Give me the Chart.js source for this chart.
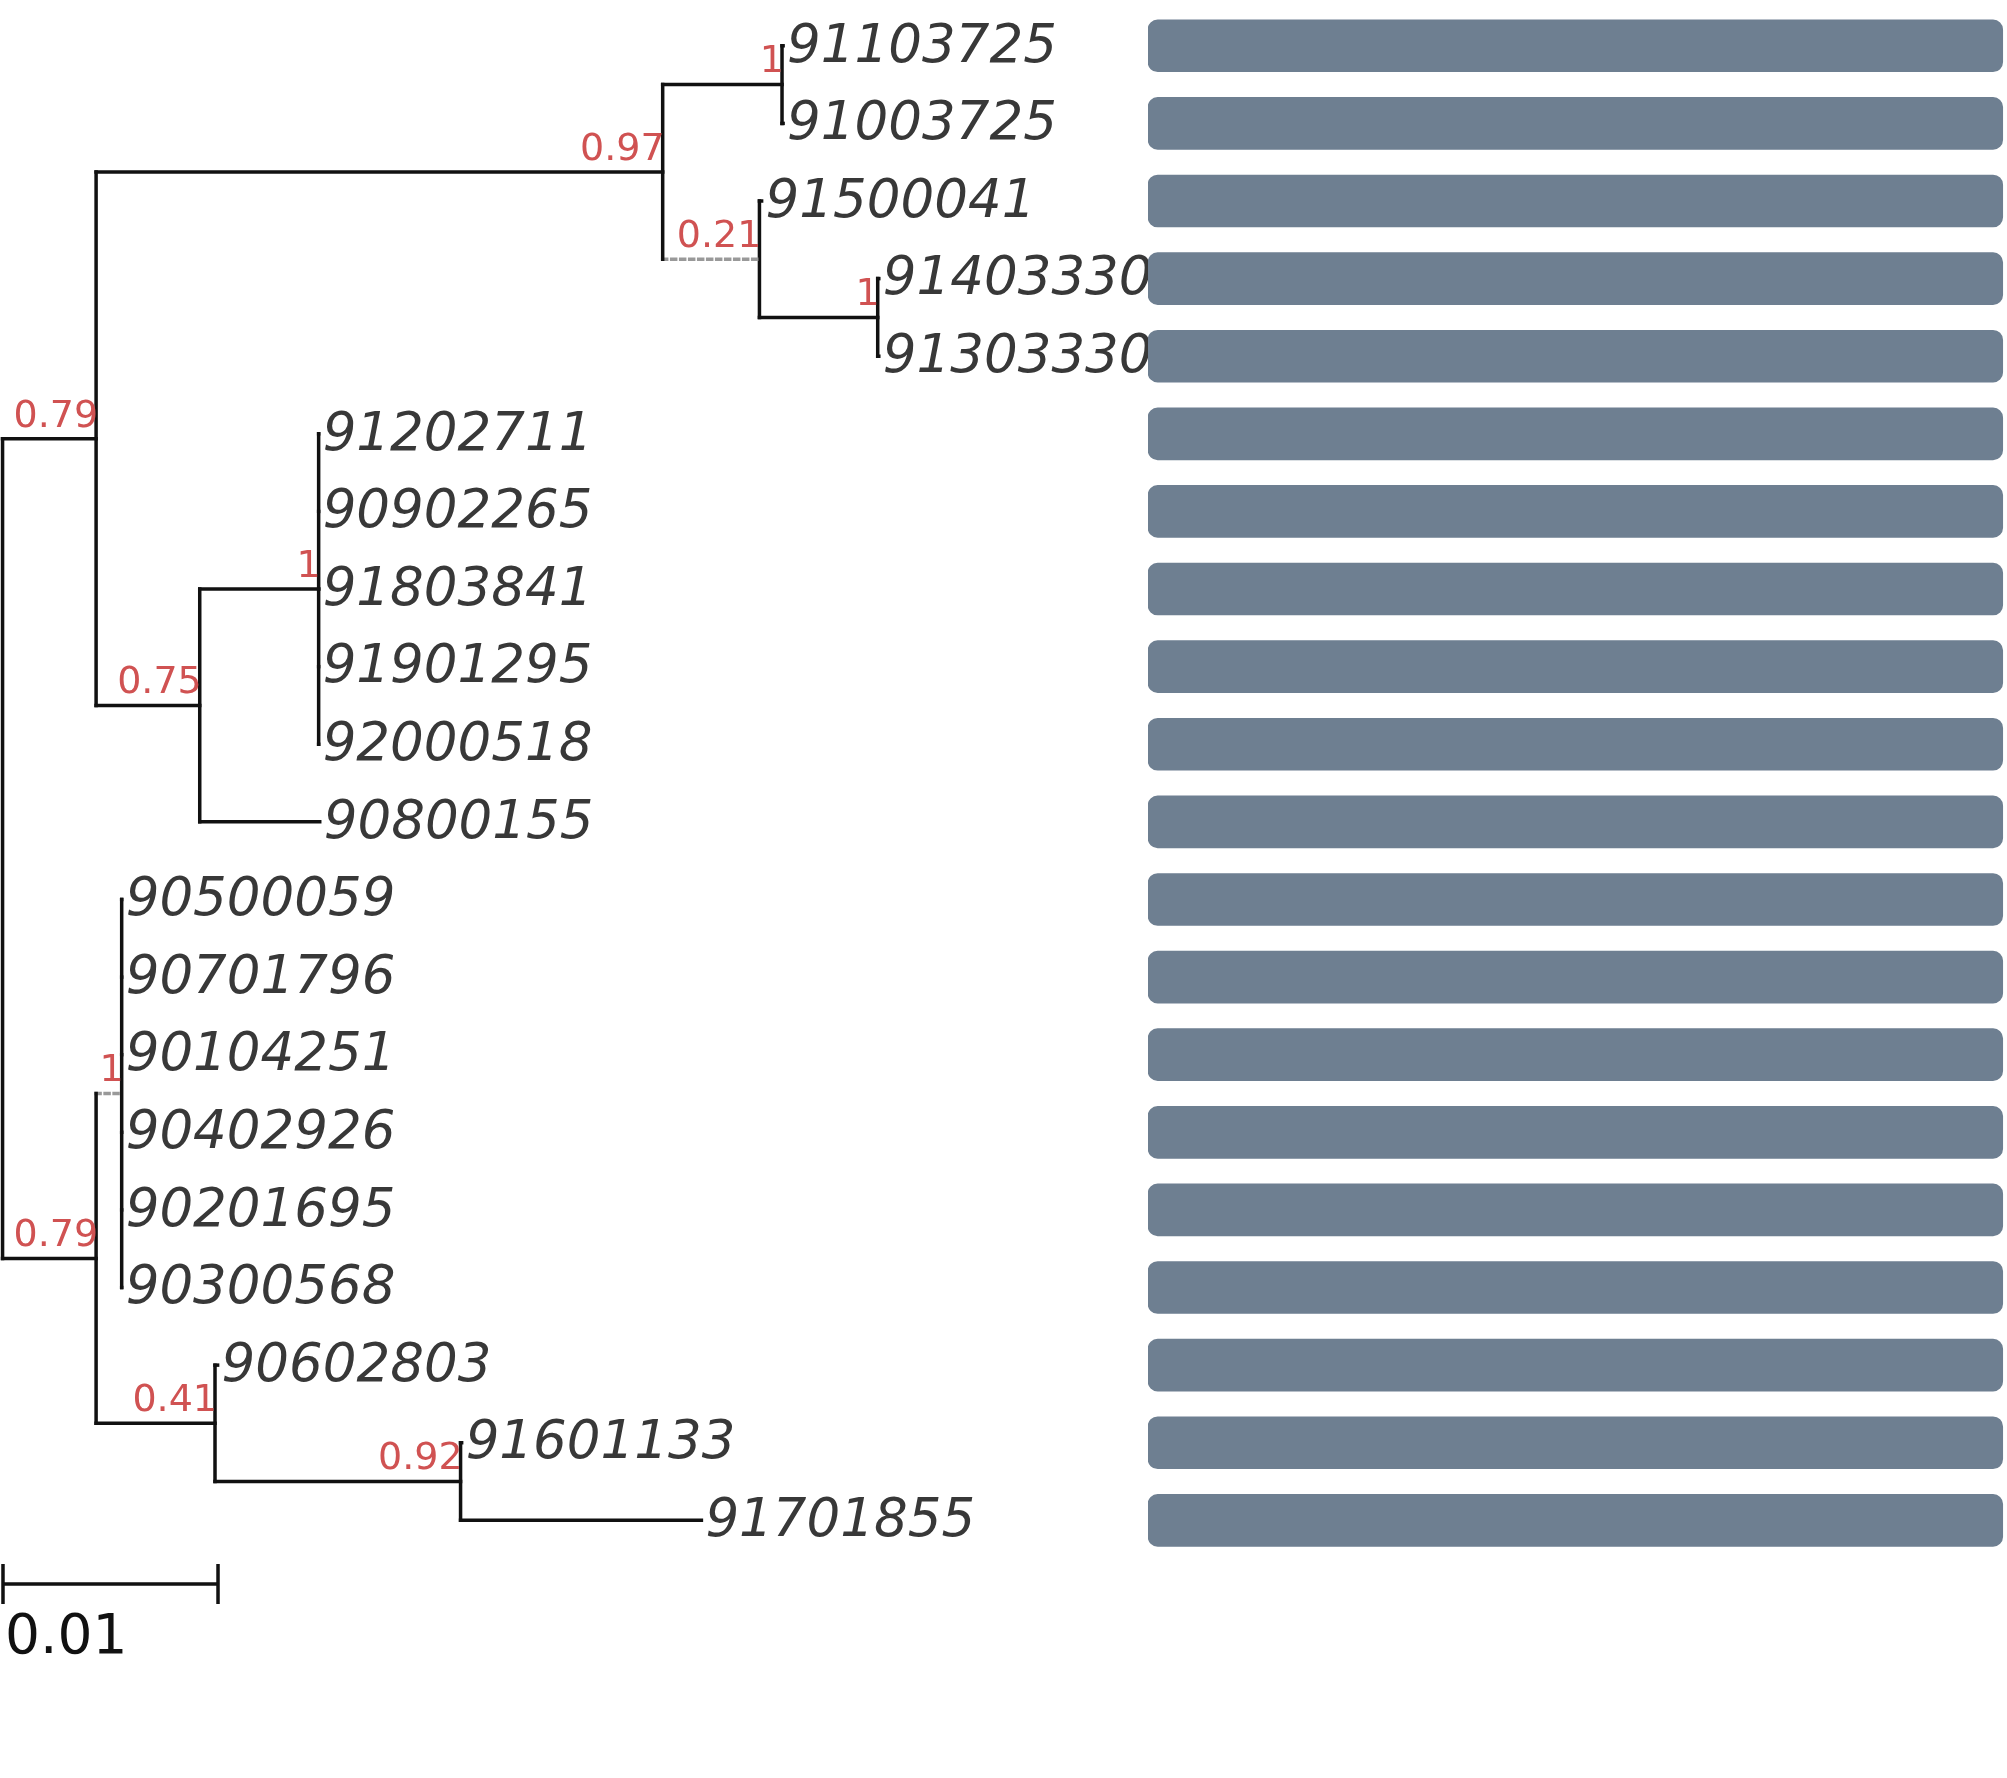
<!DOCTYPE html>
<html>
<head>
<meta charset="utf-8">
<script src="https://cdn.jsdelivr.net/npm/chart.js@4"></script>
<style>
  html, body { margin: 0; padding: 0; background: #fff; }
  #wrap { position: relative; width: 2007px; height: 1778px; }
  #tree { position: absolute; left: 0; top: 0; }
  #bars { position: absolute; left: 1148px; top: 0; }
</style>
</head>
<body>
<div id="wrap">
  <canvas id="tree" width="1148" height="1778"></canvas>
  <canvas id="bars" width="859" height="1778"></canvas>
</div>
<script>
// leaves, top to bottom
const leafNames = ["91103725", "91003725", "91500041", "91403330", "91303330",
  "91202711", "90902265", "91803841", "91901295", "92000518", "90800155",
  "90500059", "90701796", "90104251", "90402926", "90201695", "90300568",
  "90602803", "91601133", "91701855"];
const leafDepth = [0.0363, 0.0363, 0.0353, 0.04075, 0.04075,
  0.0147, 0.0147, 0.0147, 0.0147, 0.0147, 0.01475,
  0.00554, 0.00554, 0.00554, 0.00554, 0.00554, 0.00554,
  0.0100, 0.02135, 0.0325];

// internal nodes: id, parent, depth, support, children (leaf index "L#" or node id)
const nodeIds     = ["root", "A", "top", "n1a", "n021", "n1b", "n075", "n1c", "B", "n1d", "n041", "n092"];
const nodeParent  = [null, "root", "A", "top", "top", "n021", "A", "n075", "root", "B", "B", "n041"];
const nodeDepth   = [0, 0.00435, 0.0307, 0.03625, 0.0352, 0.0407, 0.00917, 0.0147, 0.00435, 0.00554, 0.00988, 0.0213];
const nodeSupport = ["", "0.79", "0.97", "1", "0.21", "1", "0.75", "1", "0.79", "1", "0.41", "0.92"];
const nodeKids = [
  ["A", "B"], ["top", "n075"], ["n1a", "n021"], ["L0", "L1"], ["L2", "n1b"], ["L3", "L4"],
  ["n1c", "L10"], ["L5", "L6", "L7", "L8", "L9"], ["n1d", "n041"],
  ["L11", "L12", "L13", "L14", "L15", "L16"], ["L17", "n092"], ["L18", "L19"]
];
const dottedNodes = ["n021", "n1d"];
const barValues = leafNames.map(() => [0, 1]);
const scaleBarLength = 0.01;
const scaleBarLabel = "0.01";

// layout y of every node (rectangular tree)
const pos = {};
leafNames.forEach((n, i) => { pos["L" + i] = { x: leafDepth[i], y: i }; });
function place(id) {
  const k = nodeIds.indexOf(id);
  if (pos[id]) return pos[id];
  const ys = nodeKids[k].map(c => (c[0] === "L" ? pos[c] : place(c)).y);
  pos[id] = { x: nodeDepth[k], y: (ys[0] + ys[ys.length - 1]) / 2, ymin: Math.min(...ys), ymax: Math.max(...ys) };
  return pos[id];
}
place("root");

const datasets = [];
function seg(a, b, dotted) {
  datasets.push({
    data: [a, b], showLine: true, pointRadius: 0, borderWidth: 3.5,
    borderColor: dotted ? "#999" : "#111", borderDash: dotted ? [4, 5] : [],
    borderCapStyle: "square"
  });
}
nodeIds.forEach((id, k) => {
  const p = pos[id];
  seg({ x: p.x, y: p.ymin }, { x: p.x, y: p.ymax }, false);
  nodeKids[k].forEach(c => {
    const q = pos[c];
    seg({ x: p.x, y: q.y }, { x: q.x, y: q.y }, dottedNodes.includes(c));
  });
});

const yMin = -0.59, yMax = 22.32;

const treeText = {
  id: "treeText",
  afterDatasetsDraw(chart) {
    const { ctx, scales: { x, y } } = chart;
    ctx.save();
    ctx.fillStyle = "#383838";
    ctx.font = "italic 53px 'DejaVu Sans'";
    ctx.textBaseline = "middle";
    ctx.textAlign = "left";
    leafNames.forEach((n, i) => ctx.fillText(n, x.getPixelForValue(leafDepth[i]) + 4, y.getPixelForValue(i) + 2));
    ctx.fillStyle = "#d05252";
    ctx.font = "38px 'DejaVu Sans'";
    ctx.textAlign = "right";
    ctx.textBaseline = "bottom";
    nodeIds.forEach((id, k) => {
      if (!nodeSupport[k]) return;
      ctx.fillText(nodeSupport[k], x.getPixelForValue(pos[id].x) + 2, y.getPixelForValue(pos[id].y) - 3);
    });
    // scale bar
    const x0 = x.getPixelForValue(0.00002), x1 = x.getPixelForValue(scaleBarLength + 0.00002);
    const yb = y.getPixelForValue(19.82);
    ctx.strokeStyle = "#111";
    ctx.lineWidth = 3.5;
    ctx.beginPath();
    ctx.moveTo(x0, yb); ctx.lineTo(x1, yb);
    ctx.moveTo(x0, yb - 20); ctx.lineTo(x0, yb + 20);
    ctx.moveTo(x1, yb - 20); ctx.lineTo(x1, yb + 20);
    ctx.stroke();
    ctx.fillStyle = "#111";
    ctx.font = "55px 'DejaVu Sans'";
    ctx.textAlign = "left";
    ctx.textBaseline = "middle";
    ctx.fillText(scaleBarLabel, x0 + 2, yb + 55);
    ctx.restore();
  }
};

new Chart(document.getElementById("tree"), {
  type: "scatter",
  data: { datasets },
  options: {
    responsive: false, animation: false,
    layout: { padding: 0 },
    plugins: { legend: { display: false }, tooltip: { enabled: false } },
    scales: {
      x: { type: "linear", display: false, min: -0.000119, max: 0.05327 },
      y: { type: "linear", display: false, reverse: true, min: yMin, max: yMax }
    }
  },
  plugins: [treeText]
});

new Chart(document.getElementById("bars"), {
  type: "bar",
  data: {
    datasets: [{
      data: barValues.map((v, i) => ({ x: v, y: i })),
      backgroundColor: "#6e7f91", barThickness: 52, borderRadius: 10, borderSkipped: false
    }]
  },
  options: {
    indexAxis: "y", responsive: false, animation: false,
    layout: { padding: 0 },
    plugins: { legend: { display: false }, tooltip: { enabled: false } },
    scales: {
      x: { type: "linear", display: false, min: 0, max: 1.005 },
      y: { type: "linear", display: false, reverse: true, offset: false, min: yMin, max: yMax }
    }
  }
});
</script>
</body>
</html>
